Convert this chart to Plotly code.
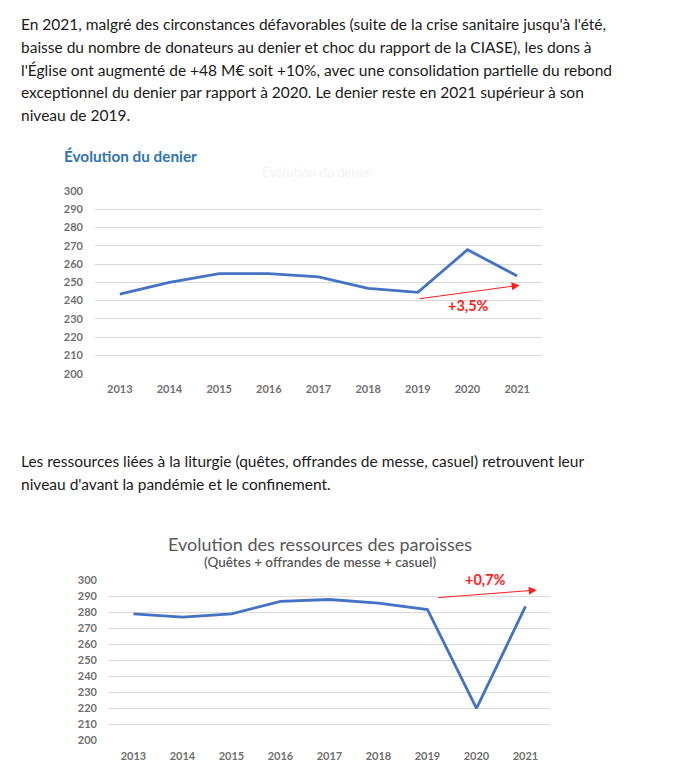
import plotly.graph_objects as go

W, H = 677, 778

# données
annees = ["2013", "2014", "2015", "2016", "2017", "2018", "2019", "2020", "2021"]
denier = [243.5, 250, 254.8, 254.8, 253, 246.7, 244.5, 267.8, 253.5]
ressources = [279, 277, 279, 286.8, 288, 285.8, 281.7, 220, 283.7]
graduations = [200, 210, 220, 230, 240, 250, 260, 270, 280, 290, 300]

paragraphe1 = [
    "En 2021, malgré des circonstances défavorables (suite de la crise sanitaire jusqu'à l'été,",
    "baisse du nombre de donateurs au denier et choc du rapport de la CIASE), les dons à",
    "l'Église ont augmenté de +48 M€ soit +10%, avec une consolidation partielle du rebond",
    "exceptionnel du denier par rapport à 2020. Le denier reste en 2021 supérieur à son",
    "niveau de 2019.",
]
paragraphe2 = [
    "Les ressources liées à la liturgie (quêtes, offrandes de messe, casuel) retrouvent leur",
    "niveau d'avant la pandémie et le confinement.",
]

POLICE = "Lato"
GRIS = "#595959"
BLEU = "#4472c4"
ROUGE = "#ff2020"


def px(x):
    return x / W


def py(y):
    return 1 - y / H


fig = go.Figure()
fig.add_trace(go.Scatter(x=annees, y=denier, mode="lines",
                         line=dict(color=BLEU, width=2.8), xaxis="x", yaxis="y",
                         hoverinfo="skip"))
fig.add_trace(go.Scatter(x=annees, y=ressources, mode="lines",
                         line=dict(color=BLEU, width=2.8), xaxis="x2", yaxis="y2",
                         hoverinfo="skip"))

police_ticks = dict(family=POLICE, size=11, color="#707070", weight=700)
axe_x = dict(type="category", range=[-0.5, 8.5], showgrid=False, zeroline=False,
             showline=False, ticks="", ticklabelstandoff=7, tickfont=police_ticks)
axe_y = dict(range=[200, 300], tickvals=graduations, showgrid=True, gridcolor="#d9d9d9",
             gridwidth=1, zeroline=False, showline=False, ticks="",
             ticklabelstandoff=11, tickfont=police_ticks)

fig.update_layout(
    width=W, height=H, margin=dict(l=0, r=0, t=0, b=0),
    paper_bgcolor="white", plot_bgcolor="white", showlegend=False,
    xaxis=dict(axe_x, domain=[px(95), px(542)], anchor="y"),
    yaxis=dict(axe_y, domain=[py(373), py(187)], anchor="x"),
    xaxis2=dict(axe_x, domain=[px(109), px(550)], anchor="y2"),
    yaxis2=dict(axe_y, domain=[py(746), py(583)], anchor="x2"),
)

annotations = []
# paragraphes de texte
for i, ligne in enumerate(paragraphe1):
    annotations.append(dict(text=ligne, x=px(19), y=py(17 + i * 23.3), xref="paper", yref="paper",
                            xanchor="left", yanchor="middle", showarrow=False,
                            font=dict(family=POLICE, size=15.5, color="#1a1a1a")))
for i, ligne in enumerate(paragraphe2):
    annotations.append(dict(text=ligne, x=px(19), y=py(462 + i * 23.3), xref="paper", yref="paper",
                            xanchor="left", yanchor="middle", showarrow=False,
                            font=dict(family=POLICE, size=15.5, color="#1a1a1a")))

# titres
annotations.append(dict(text="<b>Évolution du denier</b>", x=px(62), y=py(152), xref="paper",
                        yref="paper", xanchor="left", yanchor="middle", showarrow=False,
                        font=dict(family=POLICE, size=15.3, color="#2f74b0")))
annotations.append(dict(text="Évolution du denier", x=px(318), y=py(168), xref="paper",
                        yref="paper", xanchor="center", yanchor="middle", showarrow=False,
                        font=dict(family=POLICE, size=13, color="#f3f3f3")))
annotations.append(dict(text="Evolution des ressources des paroisses", x=px(320), y=py(546),
                        xref="paper", yref="paper", xanchor="center", yanchor="middle",
                        showarrow=False, font=dict(family=POLICE, size=18, color=GRIS)))
annotations.append(dict(text="(Quêtes + offrandes de messe + casuel)", x=px(320), y=py(564),
                        xref="paper", yref="paper", xanchor="center", yanchor="middle",
                        showarrow=False,
                        font=dict(family=POLICE, size=13.5, color=GRIS, weight=600)))

# flèches rouges et pourcentages
annotations.append(dict(x=8.05, y=248.4, ax=6.0, ay=240.9, xref="x", yref="y", axref="x",
                        ayref="y", text="", showarrow=True, arrowhead=2, arrowsize=1.6,
                        arrowwidth=1, arrowcolor=ROUGE))
annotations.append(dict(text="<b>+3,5%</b>", x=7.01, y=237.1, xref="x", yref="y",
                        showarrow=False, font=dict(family=POLICE, size=14.5, color=ROUGE)))
annotations.append(dict(x=8.23, y=293.9, ax=6.19, ay=289.1, xref="x2", yref="y2", axref="x2",
                        ayref="y2", text="", showarrow=True, arrowhead=2, arrowsize=1.6,
                        arrowwidth=1, arrowcolor=ROUGE))
annotations.append(dict(text="<b>+0,7%</b>", x=px(485), y=py(582), xref="paper", yref="paper",
                        xanchor="center", yanchor="middle", showarrow=False,
                        font=dict(family=POLICE, size=14.5, color=ROUGE)))

fig.update_layout(annotations=annotations)

# la page a une marge de 8 px par défaut, on la supprime
fig.write_html("out.html", config={"displayModeBar": False},
               post_script="document.body.style.margin='0';")
